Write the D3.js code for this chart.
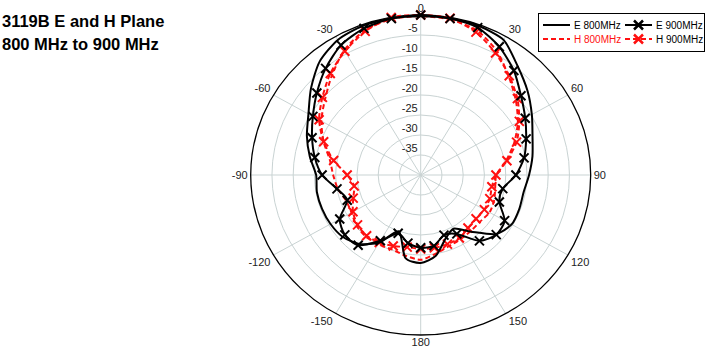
<!DOCTYPE html>
<html><head><meta charset="utf-8">
<script src="https://cdn.jsdelivr.net/npm/d3@7"></script>
<style>
html,body{margin:0;padding:0;background:#fff;}
svg{display:block;}
</style></head>
<body>
<svg id="chart" width="709" height="356"></svg>
<script>
// Angles (degrees, 0 = top, clockwise positive; 190..350 == -170..-10)
const angles = d3.range(0, 360, 10);
// Series values in dB at each angle above
const e800 = [-0.3,-0.2,-0.3,-1.0,-4.5,-7.2,-9.8,-12.0,-13.3,-14.5,-15.4,-15.3,-15.3,-17.0,-21.5,-24.5,-23.0,-19.5,-18.0,
              -19.0,-25.0,-20.5,-17.5,-16.0,-15.5,-15.3,-15.2,-15.4,-13.5,-11.5,-9.5,-6.3,-3.0,-1.0,-0.3,-0.2];
const e900 = [0.0,-0.3,-0.8,-3.0,-5.9,-9.2,-11.6,-13.6,-15.3,-17.6,-20.4,-20.3,-17.2,-16.8,-18.5,-23.0,-24.0,-22.0,-21.8,
              -22.7,-24.5,-21.0,-17.1,-16.7,-18.0,-21.6,-20.0,-16.8,-14.7,-12.8,-10.7,-8.1,-5.2,-2.5,-1.0,-0.3];
const h800 = [-0.3,-0.5,-1.5,-4.2,-7.8,-10.8,-13.6,-16.6,-19.6,-22.2,-22.2,-21.6,-21.3,-21.8,-21.7,-21.4,-21.0,-20.0,-18.8,
              -19.5,-20.2,-20.0,-19.9,-20.3,-21.2,-21.3,-20.2,-19.4,-18.3,-15.7,-13.0,-10.6,-7.5,-4.0,-1.5,-0.4];
const h900 = [0.0,-0.2,-2.0,-4.8,-7.6,-10.3,-13.2,-16.0,-19.4,-22.3,-23.0,-22.7,-22.7,-23.0,-22.7,-21.8,-21.6,-21.5,-21.5,
              -21.7,-21.1,-20.5,-20.2,-20.6,-21.6,-23.1,-24.1,-22.7,-19.2,-15.7,-12.4,-9.8,-6.9,-4.3,-1.8,0.0];
const ringTicks = [-5,-10,-15,-20,-25,-30,-35];
const spokeAngles = d3.range(0, 360, 30);
const angleLabels = ["0","30","60","90","120","150","180","-150","-120","-90","-60","-30"];
const titleLines = ["3119B E and H Plane", "800 MHz to 900 MHz"];
const legendNames = ["E 800MHz", "E 900MHz", "H 800MHz", "H 900MHz"];

const svg = d3.select("#chart");
const cx = 420.7, cy = 175, rx = 170, ry = 160;
const r = d3.scaleLinear().domain([-40, 0]).range([0, 1]);
const toRad = d3.scaleLinear().domain([0, 360]).range([0, 2 * Math.PI]);
const px = (a, db) => cx + rx * r(db) * Math.sin(toRad(a));
const py = (a, db) => cy - ry * r(db) * Math.cos(toRad(a));
const FONT = "'Liberation Sans Narrow','Liberation Sans',Arial,sans-serif";

// grid rings
const grid = svg.append("g");
grid.selectAll("ellipse.ring").data(ringTicks).join("ellipse")
  .attr("cx", cx).attr("cy", cy)
  .attr("rx", d => rx * r(d)).attr("ry", d => ry * r(d))
  .attr("fill", "none").attr("stroke", "#c9d3d3").attr("stroke-width", 1);
grid.selectAll("line.spoke").data(spokeAngles).join("line")
  .attr("x1", cx).attr("y1", cy)
  .attr("x2", a => px(a, 0)).attr("y2", a => py(a, 0))
  .attr("stroke", "#c9d3d3").attr("stroke-width", 1);
grid.append("ellipse").attr("cx", cx).attr("cy", cy).attr("rx", rx).attr("ry", ry)
  .attr("fill", "none").attr("stroke", "#000").attr("stroke-width", 1.3);

// ring labels
grid.selectAll("text.rl").data(ringTicks).join("text")
  .attr("x", cx - 3).attr("y", d => cy - ry * r(d) - 3)
  .attr("text-anchor", "end")
  .attr("font-family", FONT).attr("font-size", 11).attr("fill", "#222")
  .text(d => d);

// angle labels
grid.selectAll("text.al").data(spokeAngles).join("text")
  .attr("x", a => { const s = Math.sin(toRad(a)); return px(a, 0) + 3 * Math.sign(Math.round(s * 10)); })
  .attr("y", a => { const c = Math.cos(toRad(a)); return py(a, 0) - (c > 0.1 ? 3 : c < -0.1 ? -3 : 0); })
  .attr("dy", a => { const c = Math.cos(toRad(a)); return c > 0.1 ? "0" : c < -0.1 ? "0.75em" : "0.35em"; })
  .attr("text-anchor", a => { const s = Math.sin(toRad(a)); return s > 0.1 ? "start" : s < -0.1 ? "end" : "middle"; })
  .attr("font-family", FONT).attr("font-size", 11).attr("fill", "#222")
  .text((a, i) => angleLabels[i]);

// series
const lineGen = d3.line().x(d => px(d.a, d.v)).y(d => py(d.a, d.v)).curve(d3.curveCardinalClosed.tension(0.3));
const mk = vals => angles.map((a, i) => ({a, v: vals[i]}));
const series = [
  {vals: h800, color: "#ff1010", dash: "5,3", marker: false},
  {vals: h900, color: "#ff1010", dash: "5,3", marker: true},
  {vals: e800, color: "#000", dash: null, marker: false},
  {vals: e900, color: "#000", dash: null, marker: true},
];
const xPath = (x, y, s) => `M${x - s},${y - s}L${x + s},${y + s}M${x - s},${y + s}L${x + s},${y - s}`;
series.forEach(s => {
  const data = mk(s.vals);
  svg.append("path").attr("d", lineGen(data)).attr("fill", "none")
    .attr("stroke", s.color).attr("stroke-width", 2)
    .attr("stroke-dasharray", s.dash);
  if (s.marker) {
    svg.append("g").selectAll("path").data(data).join("path")
      .attr("d", d => xPath(px(d.a, d.v), py(d.a, d.v), 4.5))
      .attr("stroke", s.color).attr("stroke-width", 2).attr("fill", "none");
  }
});

// title
svg.append("g").selectAll("text").data(titleLines).join("text")
  .attr("x", 2).attr("y", (d, i) => 27 + i * 23)
  .attr("font-family", "'Liberation Sans',Arial,sans-serif").attr("font-weight", "bold")
  .attr("font-size", 16.5).attr("fill", "#000").text(d => d);

// legend
const lg = svg.append("g");
lg.append("rect").attr("x", 538.5).attr("y", 13.5).attr("width", 166).attr("height", 38)
  .attr("fill", "#fff").attr("stroke", "#000").attr("stroke-width", 1);
const legendItems = [
  {name: legendNames[0], color: "#000", dash: null, marker: false, x: 543, y: 25, tc: "#000"},
  {name: legendNames[1], color: "#000", dash: null, marker: true, x: 625, y: 25, tc: "#000"},
  {name: legendNames[2], color: "#ff1010", dash: "5,3", marker: false, x: 543, y: 39, tc: "#ff1010"},
  {name: legendNames[3], color: "#ff1010", dash: "5,3", marker: true, x: 625, y: 39, tc: "#000"},
];
legendItems.forEach(it => {
  lg.append("line").attr("x1", it.x).attr("x2", it.x + 27).attr("y1", it.y).attr("y2", it.y)
    .attr("stroke", it.color).attr("stroke-width", 2).attr("stroke-dasharray", it.dash);
  if (it.marker) lg.append("path").attr("d", xPath(it.x + 13.5, it.y, 4.5))
    .attr("stroke", it.color).attr("stroke-width", 2.5);
  lg.append("text").attr("x", it.x + 31).attr("y", it.y + 3.5)
    .attr("font-family", FONT).attr("font-size", 10).attr("fill", it.tc).text(it.name);
});
</script>
</body></html>
